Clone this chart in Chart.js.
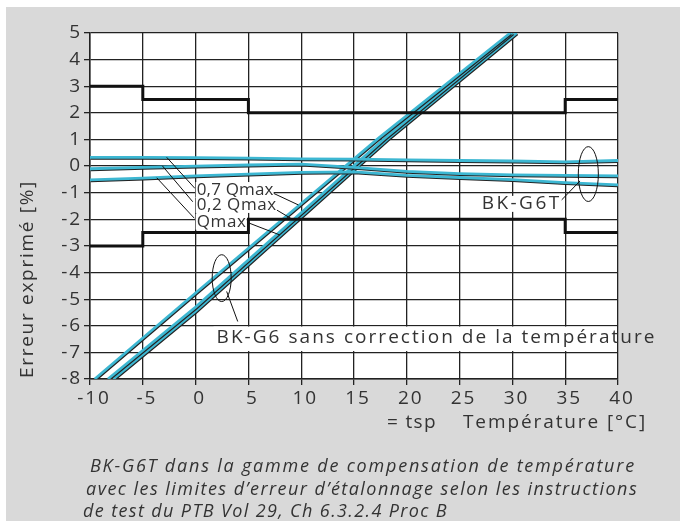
<!DOCTYPE html>
<html>
<head>
<meta charset="utf-8">
<script src="https://cdn.jsdelivr.net/npm/chart.js@4.4.1/dist/chart.umd.min.js"></script>
<style>
    html, body { margin: 0; padding: 0; background: #fff; }
    #wrap { width: 680px; height: 521px; }
</style>
</head>
<body>
<div id="wrap"><canvas id="errorChart" width="680" height="521"></canvas></div>
<script>
// temperature ticks used by the compensated (BK-G6T) curves
const tempPoints = [-10, -5, 0, 5, 10, 15, 20, 25, 30, 35, 40];
const g6tQmax07 = [0.33, 0.33, 0.32, 0.30, 0.27, 0.26, 0.23, 0.21, 0.19, 0.16, 0.21];
const g6tQmax02 = [-0.10, -0.05, 0.00, 0.04, 0.07, -0.05, -0.20, -0.28, -0.33, -0.35, -0.37];
const g6tQmax   = [-0.52, -0.45, -0.37, -0.30, -0.24, -0.22, -0.35, -0.43, -0.51, -0.62, -0.71];

// BK-G6 without temperature correction
const g6TempA = [-9.55, 0, 17.3, 29.8];
const g6ErrA  = [-8, -4.77, 1.04, 5];
const g6TempB = [-8.3, 0, 17.9, 30.0];
const g6ErrB  = [-8, -5.3, 1.04, 5];
const g6TempC = [-7.8, 0, 18.25, 30.4];
const g6ErrC  = [-8, -5.45, 1.04, 5];

// calibration error limits (step lines)
const limitTemp  = [-10, -5, 5, 35, 40];
const upperLimit = [3, 2.5, 2, 2.5, 2.5];
const lowerLimit = [-3, -2.5, -2, -2.5, -2.5];

const xTicks = [-10, -5, 0, 5, 10, 15, 20, 25, 30, 35, 40];
const yTicks = [-8, -7, -6, -5, -4, -3, -2, -1, 0, 1, 2, 3, 4, 5];

const curveColor = '#3db7d2';
const inkColor = '#222';
const textColor = '#333';
const panelColor = '#d9d9d9';
const fontFamily = '"Open Sans", "DejaVu Sans", sans-serif';
const spacing = '1.9px'; // the original face runs much wider than Open Sans

function toPoints(xs, ys) {
    let out = [];
    for (let i = 0; i < xs.length; i++) {
        out.push({x: xs[i], y: ys[i]});
    }
    return out;
}

function curve(xs, ys) {
    return {
        data: toPoints(xs, ys),
        borderColor: curveColor,
        borderWidth: 2.8,
        pointRadius: 0,
        tension: 0,
        outlined: true
    };
}

function limit(ys) {
    return {
        data: toPoints(limitTemp, ys),
        borderColor: '#111',
        borderWidth: 3,
        pointRadius: 0,
        stepped: 'before'
    };
}

// draw text stretched (via letter spacing) to the width it has in the original
function fitText(ctx, text, x, y, width) {
    ctx.letterSpacing = '0px';
    const natural = ctx.measureText(text).width;
    ctx.letterSpacing = ((width - natural) / text.length).toFixed(2) + 'px';
    ctx.fillText(text, x, y);
}

// gray panel + white plot area
const backdrop = {
    id: 'backdrop',
    beforeDraw(chart) {
        const {ctx, chartArea: a} = chart;
        ctx.save();
        ctx.fillStyle = '#fff';
        ctx.fillRect(0, 0, chart.width, chart.height);
        ctx.fillStyle = panelColor;
        ctx.fillRect(6, 7, chart.width - 6, chart.height - 7);
        ctx.fillStyle = '#fff';
        ctx.fillRect(a.left, a.top, a.right - a.left, a.bottom - a.top);
        ctx.restore();
        // wider tracking for the tick labels too
        ctx.letterSpacing = spacing;
    }
};

// thin dark edge alongside the cyan curves
const outline = {
    id: 'outline',
    beforeDatasetDraw(chart, args) {
        if (!args.meta._dataset.outlined) return;
        const ctx = chart.ctx;
        ctx.save();
        ctx.shadowColor = '#222';
        ctx.shadowOffsetX = 0.7;
        ctx.shadowOffsetY = 1;
        ctx.shadowBlur = 0;
    },
    afterDatasetDraw(chart, args) {
        if (!args.meta._dataset.outlined) return;
        chart.ctx.restore();
    }
};

function labelBox(ctx, text, x, y, width) {
    ctx.fillStyle = '#fff';
    ctx.fillRect(x - 1, y - 8, width + 1, 16);
    ctx.fillStyle = textColor;
    fitText(ctx, text, x, y, width);
}

const notes = {
    id: 'notes',
    beforeDatasetsDraw(chart) {
        const {ctx, chartArea: a, scales: {x, y}} = chart;
        // white band behind the long label
        ctx.save();
        const left = x.getPixelForValue(1.7);
        const top = y.getPixelForValue(-6.03);
        ctx.fillStyle = '#fff';
        ctx.fillRect(left, top, a.right - left - 1, y.getPixelForValue(-6.95) - top);
        ctx.restore();
    },
    afterDatasetsDraw(chart) {
        const {ctx, scales: {x, y}} = chart;
        ctx.save();
        ctx.strokeStyle = '#111';
        ctx.lineWidth = 1;
        const leaders = [
            [-2.74, 0.33, -0.06, -0.84], [-3.15, 0.01, -0.27, -1.34], [-3.68, -0.44, -0.12, -1.96],
            [7.36, -1.02, 9.73, -1.46], [7.68, -1.65, 9.25, -2.02], [4.99, -2.13, 7.99, -2.59],
            [36.4, -0.56, 34.35, -1.40], [2.94, -4.71, 3.99, -5.84]
        ];
        for (const l of leaders) {
            ctx.beginPath();
            ctx.moveTo(x.getPixelForValue(l[0]), y.getPixelForValue(l[1]));
            ctx.lineTo(x.getPixelForValue(l[2]), y.getPixelForValue(l[3]));
            ctx.stroke();
        }
        const rings = [[37.19, -0.30, 0.95, 1.03], [2.47, -4.21, 0.9, 0.88]];
        for (const r of rings) {
            const cx = x.getPixelForValue(r[0]);
            const cy = y.getPixelForValue(r[1]);
            const rx = x.getPixelForValue(r[0] + r[2]) - cx;
            const ry = cy - y.getPixelForValue(r[1] + r[3]);
            ctx.beginPath();
            ctx.ellipse(cx, cy, rx, ry, 0, 0, Math.PI * 2);
            ctx.stroke();
        }
        ctx.textBaseline = 'middle';
        ctx.textAlign = 'left';
        ctx.font = '17px ' + fontFamily;
        labelBox(ctx, '0,7 Qmax', x.getPixelForValue(0.1), y.getPixelForValue(-0.9), 77);
        labelBox(ctx, '0,2 Qmax', x.getPixelForValue(0.1), y.getPixelForValue(-1.46), 80);
        labelBox(ctx, 'Qmax', x.getPixelForValue(0.1), y.getPixelForValue(-2.09), 50);
        ctx.font = '19px ' + fontFamily;
        labelBox(ctx, 'BK-G6T', x.getPixelForValue(27.09), y.getPixelForValue(-1.42), 80);
        ctx.restore();
    },
    afterDraw(chart) {
        const {ctx, scales: {x, y}} = chart;
        ctx.save();
        ctx.fillStyle = textColor;
        ctx.textBaseline = 'middle';
        ctx.textAlign = 'left';
        ctx.font = '19px ' + fontFamily;
        fitText(ctx, 'BK-G6 sans correction de la température', x.getPixelForValue(1.99), y.getPixelForValue(-6.46), 440);

        // axis titles
        fitText(ctx, '= tsp', 387, 423, 50);
        fitText(ctx, 'Température [°C]', 463, 423, 184);
        ctx.save();
        ctx.translate(28, 378);
        ctx.rotate(-Math.PI / 2);
        fitText(ctx, 'Erreur exprimé [%]', 0, 0, 198);
        ctx.restore();

        // caption
        ctx.font = 'italic 18px ' + fontFamily;
        fitText(ctx, 'BK-G6T dans la gamme de compensation de température', 90, 467, 546);
        fitText(ctx, 'avec les limites d\u2019erreur d\u2019étalonnage selon les instructions', 86, 490, 552);
        fitText(ctx, 'de test du PTB Vol 29, Ch 6.3.2.4 Proc B', 83, 512, 365);
        ctx.restore();
    }
};

const ctx = document.getElementById('errorChart').getContext('2d');
const errorChart = new Chart(ctx, {
    type: 'line',
    plugins: [backdrop, outline, notes],
    data: {
        datasets: [
            limit(upperLimit),
            limit(lowerLimit),
            curve(tempPoints, g6tQmax07),
            curve(tempPoints, g6tQmax02),
            curve(tempPoints, g6tQmax),
            curve(g6TempA, g6ErrA),
            curve(g6TempB, g6ErrB),
            curve(g6TempC, g6ErrC)
        ]
    },
    options: {
        responsive: false,
        animation: false,
        layout: {padding: {left: 0, top: 33, right: 62, bottom: 0}},
        plugins: {
            legend: {display: false},
            tooltip: {enabled: false}
        },
        scales: {
            x: {
                type: 'linear',
                min: -10,
                max: 40,
                afterFit: (s) => { s.height = 142; },
                afterBuildTicks: (s) => { s.ticks = xTicks.map(v => ({value: v})); },
                grid: {color: inkColor, lineWidth: 1.3, tickLength: 6},
                border: {color: inkColor, width: 1.5},
                ticks: {color: textColor, padding: 2, labelOffset: 4, maxRotation: 0, font: {family: fontFamily, size: 19}}
            },
            y: {
                min: -8,
                max: 5,
                afterFit: (s) => { s.width = 90; },
                afterBuildTicks: (s) => { s.ticks = yTicks.map(v => ({value: v})); },
                grid: {color: inkColor, lineWidth: 1.3, tickLength: 6},
                border: {color: inkColor, width: 1.5},
                ticks: {color: textColor, padding: 2, font: {family: fontFamily, size: 19}}
            }
        }
    }
});
</script>
</body>
</html>
